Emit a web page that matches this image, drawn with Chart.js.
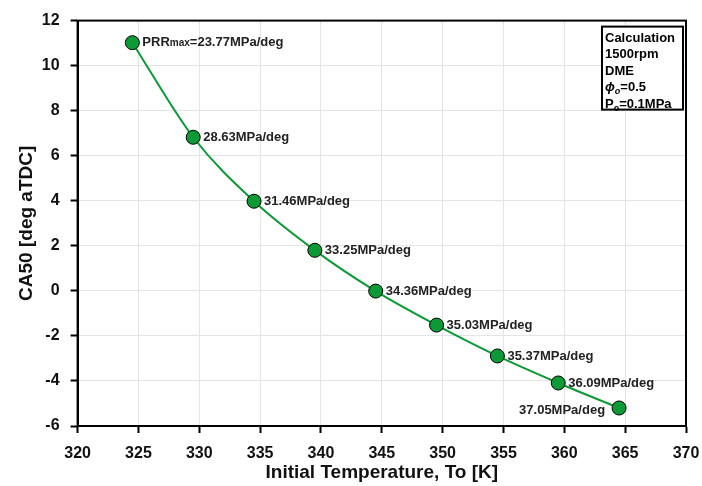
<!DOCTYPE html>
<html>
<head>
<meta charset="utf-8">
<script src="https://cdn.jsdelivr.net/npm/chart.js@4.4.0/dist/chart.umd.min.js"></script>
<style>
  html, body { margin: 0; padding: 0; background: #fff; }
  #wrap { width: 702px; height: 486px; }
</style>
</head>
<body>
<div id="wrap"><canvas id="chart" width="702" height="486"></canvas></div>
<script>
// data
const temps = [324.5, 329.5, 334.5, 339.5, 344.5, 349.5, 354.5, 359.5, 364.5];
const ca50 = [11.02, 6.82, 3.98, 1.8, -0.01, -1.52, -2.89, -4.09, -5.2];
const prrLabels = ['23.77MPa/deg', '28.63MPa/deg', '31.46MPa/deg', '33.25MPa/deg', '34.36MPa/deg',
  '35.03MPa/deg', '35.37MPa/deg', '36.09MPa/deg', '37.05MPa/deg'];
const infoLines = ['Calculation', '1500rpm', 'DME', 'phi', 'P'];

const green = '#0c9a36';
const font = 'Liberation Sans, Arial, sans-serif';

// frame + point labels + info box
const extras = {
  id: 'extras',
  afterDatasetsDraw(chart) {
    const ctx = chart.ctx;
    const a = chart.chartArea;
    const meta = chart.getDatasetMeta(0);
    ctx.save();
    // point labels
    ctx.fillStyle = '#222';
    ctx.textBaseline = 'middle';
    meta.data.forEach(function(pt, i) {
      const txt = prrLabels[i];
      if (i === 0) {
        let x = pt.x + 10;
        ctx.textAlign = 'left';
        ctx.font = 'bold 13px ' + font;
        ctx.fillText('PRR', x, pt.y);
        x += ctx.measureText('PRR').width;
        ctx.font = 'bold 10px ' + font;
        ctx.fillText('max', x, pt.y + 1);
        x += ctx.measureText('max').width;
        ctx.font = 'bold 13px ' + font;
        ctx.fillText('=' + txt, x, pt.y);
      } else if (i === meta.data.length - 1) {
        ctx.font = 'bold 13px ' + font;
        ctx.textAlign = 'right';
        ctx.fillText(txt, pt.x - 14, pt.y + 2);
      } else {
        ctx.font = 'bold 13px ' + font;
        ctx.textAlign = 'left';
        ctx.fillText(txt, pt.x + 10, pt.y);
      }
    });

    // info box
    const bx = a.right - 84, by = a.top + 6, bw = 81, bh = 83;
    ctx.fillStyle = '#fff';
    ctx.fillRect(bx, by, bw, bh);
    ctx.strokeStyle = '#000';
    ctx.lineWidth = 2;
    ctx.strokeRect(bx, by, bw, bh);
    ctx.fillStyle = '#000';
    ctx.textAlign = 'left';
    ctx.textBaseline = 'alphabetic';
    ctx.font = 'bold 13px ' + font;
    const lx = bx + 3;
    let ly = by + 15;
    ctx.fillText(infoLines[0], lx, ly); ly += 16.5;
    ctx.fillText(infoLines[1], lx, ly); ly += 16.5;
    ctx.fillText(infoLines[2], lx, ly); ly += 16.5;
    ctx.font = 'italic bold 13px ' + font;
    ctx.fillText('\u03d5', lx, ly);
    let w = ctx.measureText('\u03d5').width;
    ctx.font = 'italic bold 9px ' + font;
    ctx.fillText('o', lx + w, ly + 3);
    w += ctx.measureText('o').width;
    ctx.font = 'bold 13px ' + font;
    ctx.fillText('=0.5', lx + w, ly);
    ly += 16.5;
    ctx.fillText('P', lx, ly);
    w = ctx.measureText('P').width;
    ctx.font = 'bold 9px ' + font;
    ctx.fillText('o', lx + w, ly + 3);
    w += ctx.measureText('o').width;
    ctx.font = 'bold 13px ' + font;
    ctx.fillText('=0.1MPa', lx + w, ly);

    // plot frame
    ctx.strokeStyle = '#000';
    ctx.lineWidth = 2;
    ctx.strokeRect(a.left, a.top, a.right - a.left, a.bottom - a.top);
    ctx.restore();
  }
};

new Chart(document.getElementById('chart').getContext('2d'), {
  type: 'scatter',
  data: {
    datasets: [{
      data: temps.map(function(t, i) { return { x: t, y: ca50[i] }; }),
      showLine: true,
      borderColor: green,
      borderWidth: 2,
      cubicInterpolationMode: 'monotone',
      pointRadius: 7,
      pointBackgroundColor: green,
      pointBorderColor: '#000',
      pointBorderWidth: 1
    }]
  },
  options: {
    responsive: false,
    animation: false,
    layout: { padding: { top: 13, right: 16, bottom: 2, left: 15 } },
    plugins: { legend: { display: false }, tooltip: { enabled: false } },
    scales: {
      x: {
        type: 'linear',
        min: 320, max: 370,
        afterFit: function(scale) { scale.paddingRight = 0; },
        ticks: { stepSize: 5, color: '#111', font: { family: font, size: 16, weight: 'bold' }, padding: 11 },
        grid: { color: '#e4e4e4', tickColor: '#000', tickLength: 7, tickWidth: 2 },
        border: { color: '#000', width: 2 },
        title: { display: true, text: 'Initial Temperature, To [K]', color: '#111',
          font: { family: font, size: 19, weight: 'bold' }, padding: { top: -13, bottom: 0 } }
      },
      y: {
        min: -6, max: 12,
        ticks: { stepSize: 2, color: '#111', font: { family: font, size: 16, weight: 'bold' }, padding: 11 },
        grid: { color: '#e4e4e4', tickColor: '#000', tickLength: 7, tickWidth: 2 },
        border: { color: '#000', width: 2 },
        title: { display: true, text: 'CA50 [deg aTDC]', color: '#111',
          font: { family: font, size: 19, weight: 'bold' }, padding: { top: 0, bottom: -7 } }
      }
    }
  },
  plugins: [extras]
});
</script>
</body>
</html>
